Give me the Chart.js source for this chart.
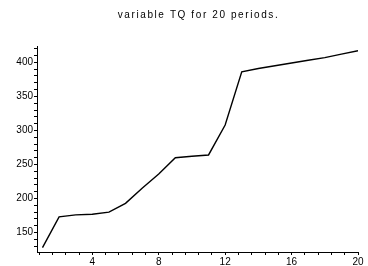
<!DOCTYPE html>
<html>
<head>
<meta charset="utf-8">
<script src="https://cdn.jsdelivr.net/npm/chart.js@4"></script>
<style>
  html, body { margin: 0; padding: 0; background: #fff; }
  #wrap { width: 368px; height: 266px; }
</style>
</head>
<body>
<div id="wrap"><canvas id="c" width="368" height="266"></canvas></div>
<script>
const titleText = "variable TQ for 20 periods.";
const periods = [1,2,3,4,5,6,7,8,9,10,11,12,13,14,15,16,17,18,19,20];
const tqValues = [128,173,176,177,180,193,215,236,260,262,264,308,386,391,395,399,403,407,412,417];
const xLabelTicks = [4,8,12,16,20];
const yLabelTicks = [150,200,250,300,350,400];
const xMinorStep = 0.8;
const yMinorStep = 10;

const points = periods.map((p, i) => ({ x: p, y: tqValues[i] }));
const fam = "'Liberation Sans', Arial, Helvetica, sans-serif";
const font = { family: fam, size: 10 };

function isLabel(v, list) {
  return list.some(t => Math.abs(t - v) < 1e-6);
}

const centeredTitle = {
  id: 'centeredTitle',
  afterDraw(chart) {
    const ctx = chart.ctx;
    const a = chart.chartArea;
    ctx.save();
    ctx.font = '10px ' + fam;
    if ('letterSpacing' in ctx) ctx.letterSpacing = '1.6px';
    ctx.fillStyle = '#000';
    ctx.textAlign = 'center';
    ctx.textBaseline = 'middle';
    ctx.fillText(titleText, (a.left + a.right) / 2 + 1, 15);
    ctx.restore();
  }
};

new Chart(document.getElementById('c'), {
  type: 'line',
  data: {
    datasets: [{
      data: points,
      borderColor: '#000',
      borderWidth: 1.4,
      pointRadius: 0,
      tension: 0,
      fill: false
    }]
  },
  plugins: [centeredTitle],
  options: {
    responsive: false,
    animation: false,
    layout: { padding: { left: 0, right: 10, top: 46, bottom: 0 } },
    plugins: {
      legend: { display: false },
      tooltip: { enabled: false },
      title: { display: false }
    },
    scales: {
      x: {
        type: 'linear',
        min: 0.67,
        max: 20,
        afterBuildTicks: (scale) => {
          const t = [];
          for (let k = 1; k * xMinorStep <= 20 + 1e-9; k++) t.push({ value: +(k * xMinorStep).toFixed(4) });
          scale.ticks = t;
        },
        afterFit: (scale) => { scale.height = 14; },
        ticks: {
          color: '#000',
          font: font,
          padding: 1,
          maxRotation: 0,
          autoSkip: false,
          callback: (v) => isLabel(v, xLabelTicks) ? String(Math.round(v)) : ''
        },
        grid: { drawOnChartArea: false, drawTicks: true, tickLength: 3, color: '#000' },
        border: { display: true, color: '#000', width: 1 }
      },
      y: {
        type: 'linear',
        min: 121.5,
        max: 424,
        afterBuildTicks: (scale) => {
          const t = [];
          for (let v = 130; v <= 420; v += yMinorStep) t.push({ value: v });
          scale.ticks = t;
        },
        afterFit: (scale) => { scale.width = 37; },
        ticks: {
          color: '#000',
          font: font,
          padding: 1,
          autoSkip: false,
          callback: (v) => isLabel(v, yLabelTicks) ? String(v) : ''
        },
        grid: { drawOnChartArea: false, drawTicks: true, tickLength: 3, color: '#000' },
        border: { display: true, color: '#000', width: 1 }
      }
    }
  }
});
</script>
</body>
</html>
